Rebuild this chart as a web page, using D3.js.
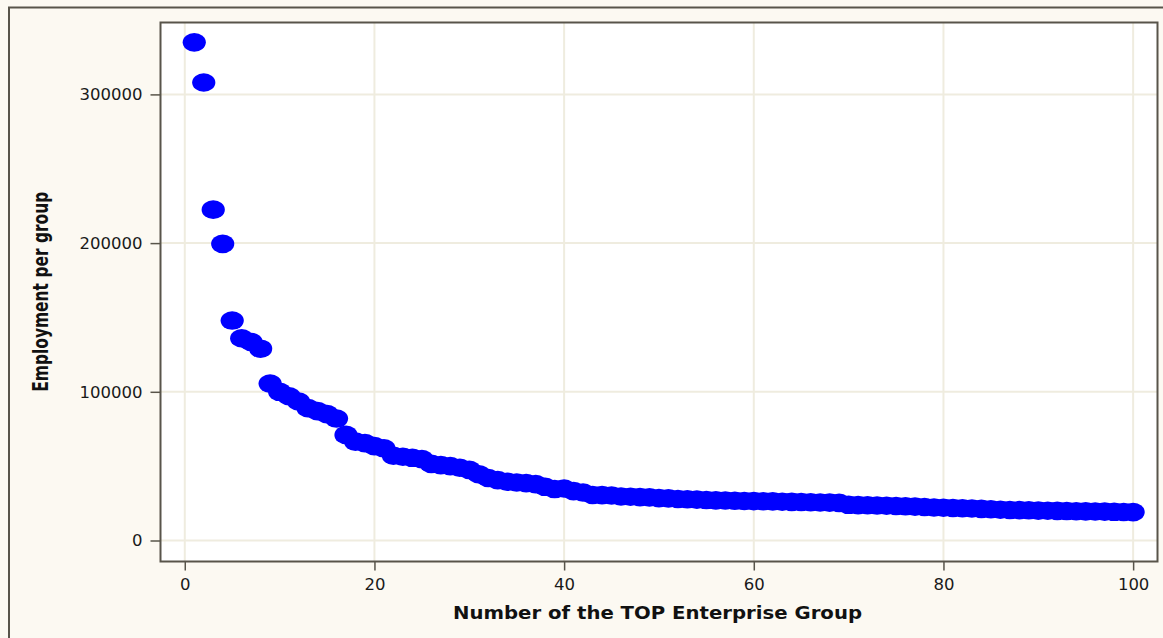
<!DOCTYPE html>
<html>
<head>
<meta charset="utf-8">
<script src="https://cdn.jsdelivr.net/npm/d3@7"></script>
<style>
html,body{margin:0;padding:0;background:#fcf9f2;}
svg{display:block;}
</style>
</head>
<body>
<svg id="chart" width="1163" height="638"></svg>
<script>
// Data
const ranks = d3.range(1, 101);
const employment = [
  335000, 308000, 222500, 199500, 147900, 136000, 133500, 129000, 105500, 100000,
  97000, 93500, 89000, 87000, 85000, 82000, 71000, 66500, 65500, 63500,
  62000, 57000, 56300, 55600, 54700, 51500, 50700, 50000, 48900, 47500,
  44600, 42000, 40600, 39500, 39000, 38600, 37900, 36100, 34600, 35000,
  33200, 32300, 30600, 30500, 30300, 29600, 29400, 29200, 29000, 28500,
  28300, 27900, 27700, 27500, 27200, 27000, 26900, 26700, 26600, 26500,
  26400, 26300, 26100, 26000, 25900, 25700, 25600, 25500, 25300, 24000,
  23800, 23700, 23500, 23400, 23200, 23000, 22800, 22500, 22200, 22000,
  21900, 21700, 21500, 21300, 21000, 20700, 20500, 20400, 20300, 20100,
  20000, 19900, 19800, 19700, 19600, 19500, 19400, 19300, 19200, 19100
];
const xTicks = [0, 20, 40, 60, 80, 100];
const yTicks = [0, 100000, 200000, 300000];
const xTitle = "Number of the TOP Enterprise Group";
const yTitle = "Employment per group";

const svg = d3.select("#chart");
const plot = {left: 160.5, top: 22.5, right: 1157.5, bottom: 561.5};

// outer frame
svg.append("rect").attr("x", 9).attr("y", 7.5).attr("width", 1200).attr("height", 700)
  .attr("fill", "#fcf9f2").attr("stroke", "#58544a").attr("stroke-width", 2);

const x = d3.scaleLinear().domain([-2.56, 102.57]).range([plot.left, plot.right]);
const y = d3.scaleLinear().domain([-14122, 348352]).range([plot.bottom, plot.top]);

// plot background
svg.append("rect").attr("x", plot.left).attr("y", plot.top)
  .attr("width", plot.right - plot.left).attr("height", plot.bottom - plot.top)
  .attr("fill", "#ffffff");

// grid
const grid = svg.append("g");
grid.selectAll("line.v").data(xTicks).join("line")
  .attr("x1", d => x(d)).attr("x2", d => x(d))
  .attr("y1", plot.top).attr("y2", plot.bottom)
  .attr("stroke", "#efecdf").attr("stroke-width", 2);
grid.selectAll("line.h").data(yTicks).join("line")
  .attr("y1", d => y(d)).attr("y2", d => y(d))
  .attr("x1", plot.left).attr("x2", plot.right)
  .attr("stroke", "#efecdf").attr("stroke-width", 2);

// axes
const xAxis = d3.axisBottom(x).tickValues(xTicks).tickSize(9).tickPadding(8).tickFormat(d3.format("d"));
const yAxis = d3.axisLeft(y).tickValues(yTicks).tickSize(10).tickPadding(8).tickFormat(d3.format("d"));

const gx = svg.append("g").attr("transform", `translate(0,${plot.bottom})`).call(xAxis);
const gy = svg.append("g").attr("transform", `translate(${plot.left},0)`).call(yAxis);
[gx, gy].forEach(g => {
  g.select(".domain").remove();
  g.selectAll(".tick line").attr("stroke", "#58544a").attr("stroke-width", 1.5);
  g.selectAll(".tick text").attr("fill", "#1a1a1a")
    .style("font-family", "'DejaVu Sans', Verdana, sans-serif").style("font-size", "16.5px");
});

// points
svg.append("g").selectAll("ellipse").data(ranks).join("ellipse")
  .attr("cx", (d) => x(d))
  .attr("cy", (d, i) => y(employment[i]))
  .attr("rx", 11.6).attr("ry", 9.3)
  .attr("fill", "#0000ff");

// plot frame
svg.append("rect").attr("x", plot.left).attr("y", plot.top)
  .attr("width", plot.right - plot.left).attr("height", plot.bottom - plot.top)
  .attr("fill", "none").attr("stroke", "#58544a").attr("stroke-width", 2);

// titles
svg.append("text").attr("x", 657.5).attr("y", 619)
  .attr("text-anchor", "middle")
  .attr("textLength", 409).attr("lengthAdjust", "spacingAndGlyphs")
  .style("font-family", "'DejaVu Sans', Verdana, sans-serif").style("font-weight", "bold")
  .style("font-size", "16.8px").attr("fill", "#111")
  .text(xTitle);

svg.append("text")
  .attr("transform", "translate(48,291.7) rotate(-90)")
  .attr("text-anchor", "middle")
  .attr("textLength", 200).attr("lengthAdjust", "spacingAndGlyphs")
  .style("font-family", "'DejaVu Sans', Verdana, sans-serif").style("font-weight", "bold")
  .style("font-size", "22px").attr("fill", "#111")
  .text(yTitle);
</script>
</body>
</html>
